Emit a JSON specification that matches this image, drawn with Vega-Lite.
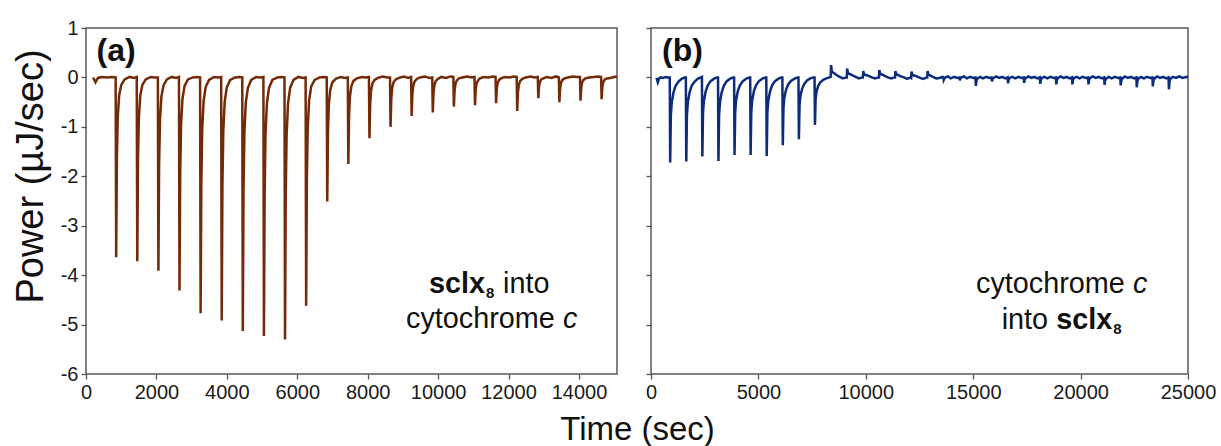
{
  "$schema": "https://vega.github.io/schema/vega-lite/v6.json",
  "padding": {"left": 11, "top": 17, "right": 5, "bottom": 0},
  "background": "white",
  "bounds": "flush",
  "spacing": 34,
  "config": {
    "font": "Liberation Sans",
    "view": {"stroke": "#5a5a5a", "strokeWidth": 1.5},
    "axis": {"grid": false, "domain": false, "tickColor": "#555", "tickSize": 5, "tickWidth": 1.3, "labelFontSize": 20, "labelColor": "#1a1a1a", "labelPadding": 3, "labelFlush": false, "titleFontWeight": "normal", "titleColor": "#111"}
  },
  "datasets": {
    "one": [{}],
    "a": [
      {"t":204,"v":0},{"t":270,"v":-0.1},{"t":340,"v":-0.01},{"t":450,"v":0.01},{"t":600,"v":0},{"t":750,"v":0.01},{"t":842,"v":0},
      {"t":857,"v":-3.64},{"t":877,"v":-1.64},{"t":902,"v":-0.8},{"t":942,"v":-0.36},{"t":1002,"v":-0.15},{"t":1097,"v":-0.04},{"t":1237,"v":0.01},{"t":1357,"v":-0.01},{"t":1441,"v":0.01},
      {"t":1456,"v":-3.72},{"t":1476,"v":-1.67},{"t":1501,"v":-0.82},{"t":1541,"v":-0.37},{"t":1601,"v":-0.15},{"t":1696,"v":-0.04},{"t":1836,"v":0.01},{"t":1956,"v":0},{"t":2041,"v":0},
      {"t":2056,"v":-3.91},{"t":2076,"v":-1.76},{"t":2101,"v":-0.86},{"t":2141,"v":-0.39},{"t":2201,"v":-0.16},{"t":2296,"v":-0.04},{"t":2436,"v":0.01},{"t":2556,"v":-0.01},{"t":2640,"v":0.01},
      {"t":2655,"v":-4.31},{"t":2675,"v":-1.94},{"t":2700,"v":-0.95},{"t":2740,"v":-0.43},{"t":2800,"v":-0.17},{"t":2895,"v":-0.04},{"t":3035,"v":0},{"t":3155,"v":0.01},{"t":3240,"v":0},
      {"t":3255,"v":-4.77},{"t":3275,"v":-2.15},{"t":3300,"v":-1.05},{"t":3340,"v":-0.48},{"t":3400,"v":-0.19},{"t":3495,"v":-0.05},{"t":3635,"v":0.01},{"t":3755,"v":0},{"t":3839,"v":0.01},
      {"t":3854,"v":-4.92},{"t":3874,"v":-2.21},{"t":3899,"v":-1.08},{"t":3939,"v":-0.49},{"t":3999,"v":-0.2},{"t":4094,"v":-0.05},{"t":4234,"v":0},{"t":4354,"v":0.01},{"t":4438,"v":0},
      {"t":4453,"v":-5.13},{"t":4473,"v":-2.31},{"t":4498,"v":-1.13},{"t":4538,"v":-0.51},{"t":4598,"v":-0.21},{"t":4693,"v":-0.05},{"t":4833,"v":0.01},{"t":4953,"v":0},{"t":5038,"v":0.01},
      {"t":5053,"v":-5.23},{"t":5073,"v":-2.35},{"t":5098,"v":-1.15},{"t":5138,"v":-0.52},{"t":5198,"v":-0.21},{"t":5293,"v":-0.05},{"t":5433,"v":0},{"t":5553,"v":0.01},{"t":5637,"v":0},
      {"t":5652,"v":-5.3},{"t":5672,"v":-2.39},{"t":5697,"v":-1.17},{"t":5737,"v":-0.53},{"t":5797,"v":-0.21},{"t":5892,"v":-0.05},{"t":6032,"v":0.01},{"t":6152,"v":-0.01},{"t":6237,"v":0},
      {"t":6252,"v":-4.62},{"t":6272,"v":-2.08},{"t":6297,"v":-1.02},{"t":6337,"v":-0.46},{"t":6397,"v":-0.18},{"t":6492,"v":-0.05},{"t":6632,"v":0},{"t":6752,"v":0.01},{"t":6836,"v":0},
      {"t":6851,"v":-2.51},{"t":6871,"v":-1.13},{"t":6896,"v":-0.55},{"t":6936,"v":-0.25},{"t":6996,"v":-0.1},{"t":7091,"v":-0.03},{"t":7231,"v":0.01},{"t":7351,"v":-0.01},{"t":7435,"v":0},
      {"t":7450,"v":-1.75},{"t":7470,"v":-0.79},{"t":7495,"v":-0.39},{"t":7535,"v":-0.18},{"t":7595,"v":-0.07},{"t":7690,"v":-0.02},{"t":7830,"v":0.01},{"t":7950,"v":0},{"t":8035,"v":0.01},
      {"t":8050,"v":-1.23},{"t":8070,"v":-0.55},{"t":8095,"v":-0.27},{"t":8135,"v":-0.12},{"t":8195,"v":-0.05},{"t":8290,"v":-0.01},{"t":8430,"v":0.02},{"t":8550,"v":0},{"t":8634,"v":0},
      {"t":8649,"v":-1.0},{"t":8669,"v":-0.45},{"t":8694,"v":-0.22},{"t":8734,"v":-0.1},{"t":8794,"v":-0.04},{"t":8889,"v":-0.01},{"t":9029,"v":0.02},{"t":9149,"v":-0.01},{"t":9233,"v":0.01},
      {"t":9248,"v":-0.78},{"t":9268,"v":-0.35},{"t":9293,"v":-0.17},{"t":9333,"v":-0.08},{"t":9393,"v":-0.03},{"t":9488,"v":0},{"t":9628,"v":0.02},{"t":9748,"v":-0.01},{"t":9833,"v":0},
      {"t":9848,"v":-0.71},{"t":9868,"v":-0.32},{"t":9893,"v":-0.16},{"t":9933,"v":-0.07},{"t":9993,"v":-0.03},{"t":10088,"v":0.01},{"t":10228,"v":-0.01},{"t":10348,"v":0.02},{"t":10432,"v":0.01},
      {"t":10447,"v":-0.59},{"t":10467,"v":-0.27},{"t":10492,"v":-0.13},{"t":10532,"v":-0.06},{"t":10592,"v":-0.02},{"t":10687,"v":0},{"t":10827,"v":0.02},{"t":10947,"v":0},{"t":11032,"v":0.01},
      {"t":11047,"v":-0.56},{"t":11067,"v":-0.25},{"t":11092,"v":-0.12},{"t":11132,"v":-0.06},{"t":11192,"v":-0.02},{"t":11287,"v":0.01},{"t":11427,"v":0},{"t":11547,"v":0.02},{"t":11631,"v":0.01},
      {"t":11646,"v":-0.52},{"t":11666,"v":-0.23},{"t":11691,"v":-0.11},{"t":11731,"v":-0.05},{"t":11791,"v":-0.02},{"t":11886,"v":0.01},{"t":12026,"v":0},{"t":12146,"v":0.02},{"t":12231,"v":0.01},
      {"t":12246,"v":-0.68},{"t":12266,"v":-0.31},{"t":12291,"v":-0.15},{"t":12331,"v":-0.07},{"t":12391,"v":-0.03},{"t":12486,"v":0},{"t":12626,"v":0.02},{"t":12746,"v":0},{"t":12830,"v":0.01},
      {"t":12845,"v":-0.42},{"t":12865,"v":-0.19},{"t":12890,"v":-0.09},{"t":12930,"v":-0.04},{"t":12990,"v":-0.02},{"t":13085,"v":0.01},{"t":13225,"v":-0.01},{"t":13345,"v":0.02},{"t":13429,"v":0},
      {"t":13444,"v":-0.5},{"t":13464,"v":-0.23},{"t":13489,"v":-0.11},{"t":13529,"v":-0.05},{"t":13589,"v":-0.02},{"t":13684,"v":0},{"t":13824,"v":0.02},{"t":13944,"v":0.01},{"t":14029,"v":0.01},
      {"t":14044,"v":-0.47},{"t":14064,"v":-0.21},{"t":14089,"v":-0.1},{"t":14129,"v":-0.05},{"t":14189,"v":-0.02},{"t":14284,"v":0},{"t":14424,"v":0.01},{"t":14544,"v":0.02},{"t":14628,"v":0.01},
      {"t":14643,"v":-0.44},{"t":14663,"v":-0.2},{"t":14688,"v":-0.1},{"t":14733,"v":-0.04},{"t":14793,"v":-0.02},{"t":14888,"v":-0.01},{"t":15000,"v":0.01},{"t":15080,"v":0.02}
    ],
    "b": [
      {"t":256,"v":-0.01},{"t":317,"v":-0.1},{"t":380,"v":-0.02},{"t":450,"v":0},{"t":560,"v":-0.01},{"t":680,"v":0.01},{"t":790,"v":0},{"t":873,"v":0},
      {"t":893,"v":-1.72},{"t":923,"v":-0.77},{"t":963,"v":-0.52},{"t":1043,"v":-0.31},{"t":1143,"v":-0.17},{"t":1273,"v":-0.09},{"t":1423,"v":-0.03},{"t":1573,"v":0},{"t":1622,"v":0},
      {"t":1642,"v":-1.7},{"t":1672,"v":-0.77},{"t":1712,"v":-0.51},{"t":1792,"v":-0.31},{"t":1892,"v":-0.17},{"t":2022,"v":-0.09},{"t":2172,"v":-0.03},{"t":2322,"v":0},{"t":2371,"v":0.01},
      {"t":2391,"v":-1.6},{"t":2421,"v":-0.72},{"t":2461,"v":-0.48},{"t":2541,"v":-0.29},{"t":2641,"v":-0.16},{"t":2771,"v":-0.08},{"t":2921,"v":-0.03},{"t":3071,"v":0},{"t":3120,"v":0},
      {"t":3140,"v":-1.69},{"t":3170,"v":-0.76},{"t":3210,"v":-0.51},{"t":3290,"v":-0.3},{"t":3390,"v":-0.17},{"t":3520,"v":-0.08},{"t":3670,"v":-0.03},{"t":3820,"v":0},{"t":3869,"v":0},
      {"t":3889,"v":-1.57},{"t":3919,"v":-0.71},{"t":3959,"v":-0.47},{"t":4039,"v":-0.28},{"t":4139,"v":-0.16},{"t":4269,"v":-0.08},{"t":4419,"v":-0.03},{"t":4569,"v":0},{"t":4618,"v":0},
      {"t":4638,"v":-1.57},{"t":4668,"v":-0.71},{"t":4708,"v":-0.47},{"t":4788,"v":-0.28},{"t":4888,"v":-0.16},{"t":5018,"v":-0.08},{"t":5168,"v":-0.03},{"t":5318,"v":0},{"t":5367,"v":0},
      {"t":5387,"v":-1.59},{"t":5417,"v":-0.72},{"t":5457,"v":-0.48},{"t":5537,"v":-0.29},{"t":5637,"v":-0.16},{"t":5767,"v":-0.08},{"t":5917,"v":-0.03},{"t":6067,"v":0},{"t":6116,"v":0},
      {"t":6136,"v":-1.37},{"t":6166,"v":-0.62},{"t":6206,"v":-0.41},{"t":6286,"v":-0.25},{"t":6386,"v":-0.14},{"t":6516,"v":-0.07},{"t":6666,"v":-0.03},{"t":6816,"v":0},{"t":6865,"v":0},
      {"t":6885,"v":-1.25},{"t":6915,"v":-0.56},{"t":6955,"v":-0.38},{"t":7035,"v":-0.23},{"t":7135,"v":-0.13},{"t":7265,"v":-0.06},{"t":7415,"v":-0.02},{"t":7565,"v":0},{"t":7614,"v":0},
      {"t":7634,"v":-0.96},{"t":7664,"v":-0.43},{"t":7704,"v":-0.29},{"t":7784,"v":-0.17},{"t":7884,"v":-0.1},{"t":8014,"v":-0.05},{"t":8164,"v":-0.02},{"t":8300,"v":0},{"t":8365,"v":0.01},
      {"t":8383,"v":0.25},{"t":8423,"v":0.11},{"t":8503,"v":0.095},{"t":8633,"v":0.05},{"t":8783,"v":0.01},{"t":8933,"v":-0.02},{"t":9083,"v":0},{"t":9115,"v":0},
      {"t":9132,"v":0.18},{"t":9172,"v":0.08},{"t":9252,"v":0.07},{"t":9382,"v":0.04},{"t":9532,"v":0.01},{"t":9682,"v":-0.02},{"t":9832,"v":0},{"t":9864,"v":0},
      {"t":9881,"v":0.13},{"t":9921,"v":0.06},{"t":10001,"v":0.05},{"t":10131,"v":0.03},{"t":10281,"v":0},{"t":10431,"v":-0.02},{"t":10581,"v":0},{"t":10613,"v":0},
      {"t":10630,"v":0.15},{"t":10670,"v":0.07},{"t":10750,"v":0.06},{"t":10880,"v":0.03},{"t":11030,"v":0},{"t":11180,"v":-0.02},{"t":11330,"v":0},{"t":11362,"v":0},
      {"t":11379,"v":0.13},{"t":11419,"v":0.06},{"t":11499,"v":0.05},{"t":11629,"v":0.02},{"t":11779,"v":0},{"t":11929,"v":-0.03},{"t":12079,"v":0},{"t":12111,"v":-0.01},
      {"t":12128,"v":0.12},{"t":12168,"v":0.05},{"t":12248,"v":0.04},{"t":12378,"v":0.02},{"t":12528,"v":-0.01},{"t":12678,"v":-0.03},{"t":12828,"v":0},{"t":12860,"v":0},
      {"t":12877,"v":0.13},{"t":12917,"v":0.06},{"t":12997,"v":0.04},{"t":13127,"v":0.01},{"t":13277,"v":-0.02},{"t":13427,"v":-0.01},{"t":13577,"v":0.01},{"t":13609,"v":0},
      {"t":13626,"v":-0.05},{"t":13656,"v":-0.02},{"t":13706,"v":0},{"t":13826,"v":0.02},{"t":13956,"v":-0.02},{"t":14106,"v":0.01},{"t":14246,"v":-0.01},{"t":14356,"v":0},
      {"t":14375,"v":-0.06},{"t":14405,"v":-0.02},{"t":14455,"v":0},{"t":14575,"v":0.02},{"t":14705,"v":-0.02},{"t":14855,"v":0.01},{"t":14995,"v":-0.01},{"t":15105,"v":0},
      {"t":15124,"v":-0.17},{"t":15154,"v":-0.06},{"t":15204,"v":-0.02},{"t":15324,"v":0.01},{"t":15454,"v":-0.02},{"t":15604,"v":0.01},{"t":15744,"v":-0.01},{"t":15854,"v":0},
      {"t":15873,"v":-0.08},{"t":15903,"v":-0.03},{"t":15953,"v":-0.01},{"t":16073,"v":0.02},{"t":16203,"v":-0.01},{"t":16353,"v":0.01},{"t":16493,"v":-0.02},{"t":16603,"v":0},
      {"t":16622,"v":-0.12},{"t":16652,"v":-0.04},{"t":16702,"v":-0.01},{"t":16822,"v":0.01},{"t":16952,"v":-0.02},{"t":17102,"v":0.01},{"t":17242,"v":-0.01},{"t":17352,"v":0},
      {"t":17371,"v":-0.11},{"t":17401,"v":-0.04},{"t":17451,"v":-0.01},{"t":17571,"v":0.02},{"t":17701,"v":-0.01},{"t":17851,"v":0.01},{"t":17991,"v":-0.02},{"t":18101,"v":0},
      {"t":18120,"v":-0.13},{"t":18150,"v":-0.05},{"t":18200,"v":-0.01},{"t":18320,"v":0.01},{"t":18450,"v":-0.02},{"t":18600,"v":0.01},{"t":18740,"v":-0.01},{"t":18850,"v":0},
      {"t":18869,"v":-0.14},{"t":18899,"v":-0.05},{"t":18949,"v":-0.01},{"t":19069,"v":0.02},{"t":19199,"v":-0.01},{"t":19349,"v":0.01},{"t":19489,"v":-0.02},{"t":19599,"v":0},
      {"t":19618,"v":-0.14},{"t":19648,"v":-0.05},{"t":19698,"v":-0.01},{"t":19818,"v":0.01},{"t":19948,"v":-0.02},{"t":20098,"v":0.01},{"t":20238,"v":-0.01},{"t":20348,"v":0},
      {"t":20367,"v":-0.14},{"t":20397,"v":-0.05},{"t":20447,"v":-0.01},{"t":20567,"v":0.02},{"t":20697,"v":-0.01},{"t":20847,"v":0.01},{"t":20987,"v":-0.02},{"t":21097,"v":0},
      {"t":21116,"v":-0.15},{"t":21146,"v":-0.05},{"t":21196,"v":-0.02},{"t":21316,"v":0.01},{"t":21446,"v":-0.02},{"t":21596,"v":0.01},{"t":21736,"v":-0.01},{"t":21846,"v":0},
      {"t":21865,"v":-0.16},{"t":21895,"v":-0.06},{"t":21945,"v":-0.02},{"t":22065,"v":0.02},{"t":22195,"v":-0.01},{"t":22345,"v":0.01},{"t":22485,"v":-0.02},{"t":22595,"v":0},
      {"t":22614,"v":-0.2},{"t":22644,"v":-0.07},{"t":22694,"v":-0.02},{"t":22814,"v":0.01},{"t":22944,"v":-0.02},{"t":23094,"v":0.01},{"t":23234,"v":-0.01},{"t":23344,"v":0},
      {"t":23363,"v":-0.18},{"t":23393,"v":-0.06},{"t":23443,"v":-0.02},{"t":23563,"v":0.02},{"t":23693,"v":-0.01},{"t":23843,"v":0.01},{"t":23983,"v":-0.02},{"t":24093,"v":0},
      {"t":24112,"v":-0.24},{"t":24142,"v":-0.08},{"t":24192,"v":-0.02},{"t":24312,"v":0.01},{"t":24442,"v":-0.01},{"t":24592,"v":0.02},{"t":24742,"v":-0.01},{"t":24900,"v":0.01},{"t":25000,"v":0.01}
    ]
  },
  "hconcat": [
    {
      "width": 531,
      "height": 346,
      "layer": [
        {
          "data": {"name": "a"},
          "mark": {"type": "line", "color": "#732a08", "strokeWidth": 2.5, "clip": true},
          "encoding": {
            "x": {"field": "t", "type": "quantitative", "scale": {"domain": [0, 15080], "nice": false, "zero": false},
                  "axis": {"values": [0, 2000, 4000, 6000, 8000, 10000, 12000, 14000], "format": "d", "title": null}},
            "y": {"field": "v", "type": "quantitative", "scale": {"domain": [-6, 1], "nice": false},
                  "axis": {"values": [-6, -5, -4, -3, -2, -1, 0, 1], "labelExpr": "datum.value + ''", "title": "Power (µJ/sec)", "titleFontSize": 38, "titlePadding": 10, "titleY": 148, "titleAlign": "center", "titleAnchor": null}}
          }
        },
        {
          "data": {"name": "one"},
          "mark": {"type": "text", "text": "(a)", "fontSize": 32, "fontWeight": "bold", "align": "left", "baseline": "alphabetic", "color": "#111"},
          "encoding": {"x": {"datum": 300, "type": "quantitative"}, "y": {"datum": 0.33, "type": "quantitative"}}
        },
        {
          "data": {"name": "one"},
          "mark": {"type": "text", "text": "sclx", "fontSize": 28.8, "fontWeight": "bold", "align": "left", "baseline": "alphabetic", "color": "#111"},
          "encoding": {"x": {"datum": 9741, "type": "quantitative"}, "y": {"datum": -4.36, "type": "quantitative"}}
        },
        {
          "data": {"name": "one"},
          "mark": {"type": "text", "text": "8", "fontSize": 15, "fontWeight": "bold", "align": "left", "baseline": "alphabetic", "dx": 57, "dy": 5, "color": "#111"},
          "encoding": {"x": {"datum": 9741, "type": "quantitative"}, "y": {"datum": -4.36, "type": "quantitative"}}
        },
        {
          "data": {"name": "one"},
          "mark": {"type": "text", "text": "into", "fontSize": 28.8, "align": "left", "baseline": "alphabetic", "dx": 74, "color": "#111"},
          "encoding": {"x": {"datum": 9741, "type": "quantitative"}, "y": {"datum": -4.36, "type": "quantitative"}}
        },
        {
          "data": {"name": "one"},
          "mark": {"type": "text", "text": "cytochrome", "fontSize": 28.8, "align": "left", "baseline": "alphabetic", "color": "#111"},
          "encoding": {"x": {"datum": 9088, "type": "quantitative"}, "y": {"datum": -5.07, "type": "quantitative"}}
        },
        {
          "data": {"name": "one"},
          "mark": {"type": "text", "text": "c", "fontSize": 28.8, "fontStyle": "italic", "align": "left", "baseline": "alphabetic", "dx": 157, "color": "#111"},
          "encoding": {"x": {"datum": 9088, "type": "quantitative"}, "y": {"datum": -5.07, "type": "quantitative"}}
        }
      ]
    },
    {
      "width": 537,
      "height": 346,
      "layer": [
        {
          "data": {"name": "b"},
          "mark": {"type": "line", "color": "#0b2b7c", "strokeWidth": 2.5, "clip": true},
          "encoding": {
            "x": {"field": "t", "type": "quantitative", "scale": {"domain": [0, 25000], "nice": false, "zero": false},
                  "axis": {"values": [0, 5000, 10000, 15000, 20000, 25000], "format": "d", "title": "Time (sec)", "titleFontSize": 33, "titleX": -14, "titleY": 65, "titleAlign": "center", "titleBaseline": "alphabetic", "titleAnchor": null}},
            "y": {"field": "v", "type": "quantitative", "scale": {"domain": [-6, 1], "nice": false},
                  "axis": {"values": [-6, -5, -4, -3, -2, -1, 0, 1], "labels": false, "title": null}}
          }
        },
        {
          "data": {"name": "one"},
          "mark": {"type": "text", "text": "(b)", "fontSize": 32, "fontWeight": "bold", "align": "left", "baseline": "alphabetic", "color": "#111"},
          "encoding": {"x": {"datum": 512, "type": "quantitative"}, "y": {"datum": 0.33, "type": "quantitative"}}
        },
        {
          "data": {"name": "one"},
          "mark": {"type": "text", "text": "cytochrome", "fontSize": 28.8, "align": "left", "baseline": "alphabetic", "color": "#111"},
          "encoding": {"x": {"datum": 15130, "type": "quantitative"}, "y": {"datum": -4.355, "type": "quantitative"}}
        },
        {
          "data": {"name": "one"},
          "mark": {"type": "text", "text": "c", "fontSize": 28.8, "fontStyle": "italic", "align": "left", "baseline": "alphabetic", "dx": 157, "color": "#111"},
          "encoding": {"x": {"datum": 15130, "type": "quantitative"}, "y": {"datum": -4.355, "type": "quantitative"}}
        },
        {
          "data": {"name": "one"},
          "mark": {"type": "text", "text": "into", "fontSize": 28.8, "align": "left", "baseline": "alphabetic", "color": "#111"},
          "encoding": {"x": {"datum": 16327, "type": "quantitative"}, "y": {"datum": -5.09, "type": "quantitative"}}
        },
        {
          "data": {"name": "one"},
          "mark": {"type": "text", "text": "sclx", "fontSize": 28.8, "fontWeight": "bold", "align": "left", "baseline": "alphabetic", "dx": 54.5, "color": "#111"},
          "encoding": {"x": {"datum": 16327, "type": "quantitative"}, "y": {"datum": -5.09, "type": "quantitative"}}
        },
        {
          "data": {"name": "one"},
          "mark": {"type": "text", "text": "8", "fontSize": 15, "fontWeight": "bold", "align": "left", "baseline": "alphabetic", "dx": 111.5, "dy": 5, "color": "#111"},
          "encoding": {"x": {"datum": 16327, "type": "quantitative"}, "y": {"datum": -5.09, "type": "quantitative"}}
        }
      ]
    }
  ]
}
